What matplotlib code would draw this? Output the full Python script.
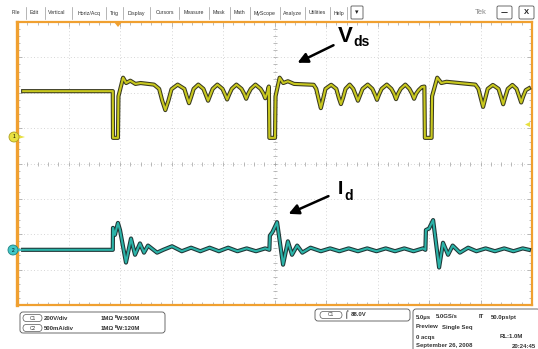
import numpy as np
import matplotlib
matplotlib.use("Agg")
import matplotlib.pyplot as plt
import matplotlib.patheffects as pe
from matplotlib.patches import FancyBboxPatch, Circle, Polygon

# scope settings
volts_per_div = 200.0      # C1
amps_per_div = 0.5         # C2
us_per_div = 5.0
ch1_offset_div = 0.75      # ground marker of C1
ch2_offset_div = -2.44     # ground marker of C2

# C1 : Vds (us, V)
ch1_t = [0.6, 9.3, 9.32, 9.8, 9.85, 10.3, 10.6, 11.0, 11.5, 12.0, 13.3,
         13.8, 14.1, 14.4, 14.7, 15.0, 15.6,
         16.25, 16.5, 16.7, 16.9, 17.15, 17.6,
         18.1, 18.35, 18.55, 18.75, 19.0, 19.45,
         19.95, 20.2, 20.4, 20.6, 20.85, 21.3,
         21.8, 22.05, 22.25, 22.45, 22.7, 23.15,
         23.65, 23.9, 24.1, 24.3, 24.45, 24.5,
         25.05, 25.1, 25.5, 25.85, 26.3, 26.9, 28.8,
         29.05, 29.3, 29.5, 29.7, 29.95, 30.5,
         31.0, 31.25, 31.45, 31.65, 31.9, 32.3,
         32.65, 32.9, 33.1, 33.3, 33.55, 34.05,
         34.5, 34.75, 34.95, 35.15, 35.4, 35.9,
         36.35, 36.6, 36.8, 37.0, 37.25, 37.7,
         38.1, 38.35, 38.55, 38.75, 39.0, 39.3, 39.55, 39.6,
         40.25, 40.3, 40.8, 41.2, 41.7, 44.5,
         44.8, 45.05, 45.25, 45.45, 45.7, 46.2,
         46.75, 47.0, 47.2, 47.4, 47.65, 48.1,
         48.5, 48.75, 48.95, 49.15, 49.4, 49.7]
ch1_v = [259, 259, -5, -5, 230, 335, 305, 318, 300, 305, 296,
         272, 205, 152, 205, 270, 296,
         272, 225, 191, 225, 272, 296,
         272, 235, 205, 235, 272, 296,
         272, 240, 212, 240, 272, 296,
         272, 245, 216, 245, 272, 296,
         272, 248, 219, 250, 285, -5,
         -5, 230, 335, 305, 315, 300, 295,
         272, 210, 163, 210, 272, 295,
         272, 220, 186, 220, 272, 296,
         272, 235, 205, 235, 272, 296,
         272, 240, 210, 240, 272, 296,
         272, 245, 214, 245, 272, 296,
         272, 245, 216, 245, 265, 282, 285, -5,
         -5, 230, 335, 305, 312, 296,
         272, 215, 170, 215, 272, 294,
         272, 225, 185, 225, 272, 294,
         272, 230, 195, 230, 265, 275]

# C2 : Id (us, A)
ch2_t = [0.6, 9.3, 9.32, 9.5, 9.8, 10.0, 10.58, 11.07, 11.46, 11.94, 12.33, 12.72, 13.6,
         14.2, 15.05, 16.0, 16.9, 17.8, 18.7, 19.6, 20.5, 21.4, 22.3, 23.2, 24.1, 24.5,
         24.55, 24.8, 25.25, 25.83, 26.3, 26.7, 27.2, 27.7, 28.5, 29.5, 30.4, 31.3, 32.2,
         33.1, 34.0, 34.9, 35.8, 36.7, 37.6, 38.5, 39.4, 39.65,
         39.7, 40.0, 40.4, 40.98, 41.36, 41.85, 42.3, 43.0, 43.8, 44.6, 45.5, 46.4, 47.3,
         48.2, 49.1, 49.7]
ch2_i = [0.0, 0.0, 0.31, 0.21, 0.38, 0.28, -0.18, 0.16, -0.07, 0.09, -0.04, 0.06, -0.04,
         0.0, 0.05, -0.02, 0.03, -0.02, 0.03, -0.02, 0.03, -0.02, 0.02, -0.02, 0.02, 0.0,
         0.2, 0.25, 0.39, -0.21, 0.12, -0.07, 0.06, -0.04, 0.03, -0.02, 0.02, -0.02, 0.02,
         -0.02, 0.02, -0.02, 0.02, -0.02, 0.02, -0.02, 0.02, 0.0,
         0.28, 0.3, 0.42, -0.25, 0.10, -0.07, 0.06, -0.04, 0.03, -0.02, 0.02, -0.02, 0.02,
         -0.02, 0.02, 0.0]

menu_items = ["File", "Edit", "Vertical", "Horiz/Acq", "Trig", "Display", "Cursors",
              "Measure", "Mask", "Math", "MyScope", "Analyze", "Utilities", "Help"]
menu_x = [16, 34, 57, 89, 114, 136.5, 164.5, 193.5, 219, 239.5, 265, 292, 317.5, 339]
menu_sep = [26, 45, 72, 106, 123, 150, 179, 209, 230, 250, 280, 305, 330, 347]

W, H = 538, 349
fig = plt.figure(figsize=(W / 100, H / 100), dpi=100)
fig.patch.set_facecolor("white")

orange = "#f0a030"
ax = fig.add_axes([17 / W, (H - 305) / H, 515 / W, 283 / H])
ax.set_xlim(0, 10 * us_per_div)
ax.set_ylim(-4, 4)
for s in ax.spines.values():
    s.set_color(orange)
    s.set_linewidth(1.6)
ax.spines["left"].set_linewidth(2.4)
ax.set_xticks(np.arange(0, 51, 5))
ax.set_yticks(np.arange(-4, 5, 1))
ax.set_xticks(np.arange(0, 51, 1), minor=True)
ax.set_yticks(np.arange(-4, 4.01, 0.2), minor=True)
ax.tick_params(which="both", direction="in", top=True, right=True, labelleft=False,
               labelbottom=False, color="#a0a0a0", width=0.5)
ax.tick_params(which="major", length=3.5)
ax.tick_params(which="minor", length=2)
ax.grid(True, which="major", color="#c8c8c8", linestyle=(0, (1, 3)), linewidth=0.6)

# centre cross ticks
cx = np.arange(0, 51, 1)
cy = np.arange(-4, 4.01, 0.2)
ax.plot(cx, np.zeros_like(cx), ls="none", marker="|", ms=3, color="#a0a0a0", mew=0.5)
ax.plot(np.full_like(cy, 25), cy, ls="none", marker="_", ms=3, color="#a0a0a0", mew=0.5)

y1 = np.array(ch1_v) / volts_per_div + ch1_offset_div
y2 = np.array(ch2_i) / amps_per_div + ch2_offset_div
ax.plot(ch1_t, y1, color="#c8c81e", lw=1.5, solid_joinstyle="round",
        path_effects=[pe.Stroke(linewidth=3.0, foreground="#3a3a20"), pe.Normal()], zorder=3)
ax.plot(ch2_t, y2, color="#2bb3a8", lw=1.5, solid_joinstyle="round",
        path_effects=[pe.Stroke(linewidth=3.0, foreground="#1f3535"), pe.Normal()], zorder=3)

# overlay in pixel coordinates
ov = fig.add_axes([0, 0, 1, 1])
ov.set_xlim(0, W)
ov.set_ylim(H, 0)
ov.axis("off")
ov.patch.set_visible(False)

font = "Liberation Sans"
for name, x in zip(menu_items, menu_x):
    ov.text(x, 13, name, fontsize=3.8, ha="center", va="center", color="#333333", family=font)
for x in menu_sep:
    ov.plot([x, x], [7, 19], color="#999999", lw=0.5)


def box(x0, y0, x1, y1, r=2, lw=0.6, ec="#555555"):
    ov.add_patch(FancyBboxPatch((x0, y0), x1 - x0, y1 - y0,
                                boxstyle=f"round,pad=0,rounding_size={r}",
                                fc="white", ec=ec, lw=lw))


box(351, 6, 363, 19, r=1)
ov.text(357, 12.5, "▾", fontsize=5, ha="center", va="center", color="#222222")
ov.text(481, 13, "Tek", fontsize=5.5, ha="center", va="center", color="#888888", family=font)
box(497, 6, 512, 19, r=1.5)
ov.text(504.5, 12.5, "—", fontsize=5, ha="center", va="center", color="#222222", weight="bold")
box(519, 6, 534, 19, r=1.5)
ov.text(526.5, 12.5, "X", fontsize=5.5, ha="center", va="center", color="#222222",
        weight="bold", family=font)

# trigger position marker and level marker
ov.add_patch(Polygon([[114, 22], [122, 22], [118, 27]], closed=True, fc=orange, ec="none"))
ov.add_patch(Polygon([[525, 124.5], [530, 122], [530, 127]], closed=True, fc="#e8e040", ec="none"))

# channel markers
ov.add_patch(Circle((14, 137), 5, fc="#e8e040", ec="#b0a020", lw=0.6, zorder=5))
ov.text(14, 137, "1", fontsize=3.5, ha="center", va="center", zorder=6, family=font)
ov.add_patch(Polygon([[18, 135], [25, 137], [18, 139]], closed=True, fc="#e8e040", ec="none", zorder=4))
ov.add_patch(Circle((13, 250), 5, fc="#40c8c8", ec="#208080", lw=0.6, zorder=5))
ov.text(13, 250, "2", fontsize=3.5, ha="center", va="center", zorder=6, family=font)
ov.add_patch(Polygon([[17, 248], [24, 250], [17, 252]], closed=True, fc="#40c8c8", ec="none", zorder=4))

# annotations
ov.text(345, 37, "V", fontsize=16, weight="bold", ha="center", va="center", family=font)
ov.text(362, 42, "ds", fontsize=10, weight="bold", ha="center", va="center", family=font)
ov.annotate("", xy=(295, 64), xytext=(336, 44),
            arrowprops=dict(arrowstyle="-|>,head_length=0.6,head_width=0.3", lw=1.8, color="black"))
ov.text(340.5, 190, "I", fontsize=14, weight="bold", ha="center", va="center", family=font)
ov.text(349, 196, "d", fontsize=10, weight="bold", ha="center", va="center", family=font)
ov.annotate("", xy=(286, 215), xytext=(331, 195),
            arrowprops=dict(arrowstyle="-|>,head_length=0.6,head_width=0.3", lw=1.8, color="black"))

# status boxes
st = dict(fontsize=4.3, weight="bold", va="center", color="#333333", family=font)
box(20, 312, 165, 333, r=3)
for yy, ch, scale, bw in [(318, "C1", "200V/div", "500M"), (328, "C2", "500mA/div", "120M")]:
    box(23, yy - 3.5, 42, yy + 3.5, r=3.5, lw=0.5)
    ov.text(32.5, yy, ch, ha="center", **dict(st, weight="normal", fontsize=3.5))
    ov.text(44, yy, scale, **st)
    ov.text(101, yy, "1MΩ", **st)
    ov.text(115, yy, "ᴮW:" + bw, **st)

box(315, 309, 410, 321, r=3)
box(320, 311.5, 342, 318.5, r=3.5, lw=0.5)
ov.text(331, 315, "C1", ha="center", **dict(st, weight="normal", fontsize=3.5))
ov.text(345, 315, "⌠", fontsize=5, va="center", family="DejaVu Sans")
ov.text(351, 315, "88.0V", **st)

box(413, 309, 540, 352, r=3)
ov.text(416, 317, "5.0µs", **st)
ov.text(436, 317, "5.0GS/s", **st)
ov.text(479, 317, "IT", **st)
ov.text(491, 317, "50.0ps/pt", **st)
ov.text(416, 327, "Preview", **st)
ov.text(442, 327, "Single Seq", **st)
ov.text(416, 337, "0 acqs", **st)
ov.text(500, 337, "RL:1.0M", **st)
ov.text(416, 346, "September 26, 2008", **st)
ov.text(536, 346, "20:24:45", ha="right", **st)

fig.savefig("out.png", dpi=100)
